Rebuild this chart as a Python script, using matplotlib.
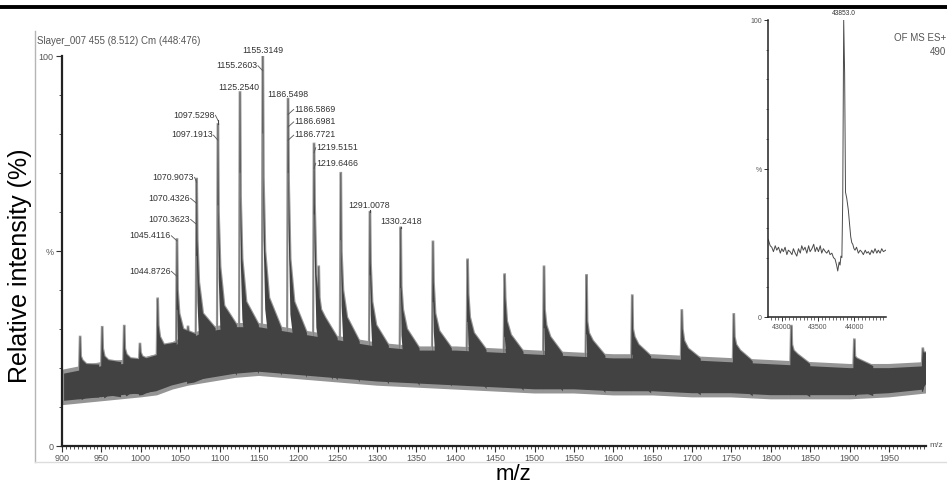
import matplotlib
matplotlib.use("Agg")
import matplotlib.pyplot as plt
import numpy as np
from matplotlib.lines import Line2D
from matplotlib.ticker import MultipleLocator

plt.rcParams['font.family'] = ['Liberation Sans', 'DejaVu Sans']

# noise band of the spectrum (upper / lower edge, % relative intensity)
band_mz = [900, 925, 950, 975, 1000, 1020, 1040, 1060, 1090, 1120, 1150, 1180, 1210, 1240,
           1270, 1300, 1350, 1400, 1450, 1500, 1550, 1600, 1650, 1700, 1750, 1800, 1850,
           1900, 1950, 1997]
band_top = [19, 20, 21, 21.5, 22, 23, 26, 28, 30, 31, 31, 30, 29, 28,
            27, 26, 25, 25, 24.5, 24, 23.5, 23, 23, 22.5, 22, 21.5, 21,
            20.5, 20.5, 21]
band_bot = [11, 11.5, 12, 12.5, 13, 13.5, 15, 16, 17, 18, 18.5, 18, 17.5, 17,
            16.5, 16, 15.5, 15, 14.5, 14, 14, 13.5, 13.5, 13, 13, 12.5, 12.5,
            12.5, 13, 14]

# charge-state peaks: apex, then level just after, a little later, and in the tail
peak_mz = [923, 951, 979, 999, 1021.5, 1046, 1060, 1071, 1098, 1126, 1155, 1187, 1220, 1226,
           1254, 1291, 1330, 1371, 1415, 1462, 1512, 1566, 1624, 1687, 1753, 1826, 1906, 1993]
peak_top = [28, 30.5, 30.8, 26.2, 37.8, 53, 30.6, 68.5, 82.5, 90.7, 100, 89, 77.5, 46,
            70, 60, 56, 52.4, 47.8, 44, 46, 43.8, 38.6, 34.8, 33.8, 30.8, 27.3, 25]
peak_sh = [23, 25, 25, 24, 31, 40, 29, 53, 60, 64, 69, 68, 62, 38,
           50, 47, 41, 42, 39, 38, 35, 32, 30, 30, 28, 26, 23, 24]
peak_mid = [22, 23, 23.5, 23, 28, 34, 28.5, 42, 46, 48, 50, 48, 44, 35,
            40, 37, 35, 34, 33, 32, 31, 29, 28, 27, 26, 24.5, 22.5, 24]
peak_tail = [21, 22, 22.5, 22.5, 26, 30, 28, 34, 36, 37, 38, 37, 35, 33,
             33, 31, 30, 29.5, 29, 28.5, 28, 27, 26, 25, 24.5, 23.5, 22, 24]

# peak annotations: text, peak it belongs to, text position, side of the peak line
ann_text = ['1155.3149', '1155.2603', '1125.2540', '1186.5498', '1186.5869', '1186.6981',
            '1186.7721', '1219.5151', '1219.6466', '1097.5298', '1097.1913', '1070.9073',
            '1070.4326', '1070.3623', '1045.4116', '1044.8726', '1291.0078', '1330.2418']
ann_peak = [1155, 1155, 1126, 1187, 1187, 1187, 1187, 1220, 1220, 1098, 1098, 1071,
            1071, 1071, 1046, 1046, 1291, 1330]
ann_x = [1155, 1148, 1124.5, 1187, 1195, 1195, 1195, 1223, 1223, 1094, 1091.5, 1067.5,
         1062.5, 1062.5, 1038, 1038, 1290.5, 1330.5]
ann_y = [101.6, 97.8, 92.3, 90.5, 86.6, 83.4, 80.0, 76.8, 72.8, 85.1, 80.0, 69.2,
         63.8, 58.4, 54.2, 45.1, 62.0, 57.7]
ann_side = ['c', 'l', 'c', 'c', 'r', 'r', 'r', 'r', 'r', 'l', 'l', 'l',
            'l', 'l', 'l', 'l', 'c', 'c']

# deconvoluted spectrum (inset)
inset_mass = [42815, 42840, 42862, 42885, 42910, 42931, 42955, 42980, 43000, 43022, 43045,
              43070, 43090, 43114, 43140, 43160, 43185, 43207, 43230, 43255, 43275, 43297,
              43320, 43345, 43370, 43390, 43415, 43440, 43460, 43482, 43505, 43530, 43550,
              43573, 43600, 43620, 43645, 43665, 43690, 43712, 43734, 43755, 43771, 43790,
              43803, 43815, 43828, 43840, 43853, 43866, 43878, 43895, 43917, 43935, 43950,
              43965, 43978, 43995, 44009, 44030, 44055, 44080, 44100, 44124, 44150, 44170,
              44193, 44215, 44240, 44261, 44285, 44310, 44330, 44355, 44377, 44400, 44432]
inset_val = [26, 24, 23.5, 22, 24, 22.5, 23.5, 21.5, 23, 22, 23.5,
             21, 22.5, 22, 21, 23, 21.5, 20.5, 23, 21.5, 24, 22.5,
             23.5, 21.5, 24, 22, 23, 24.5, 22, 23.5, 22, 24, 21.5,
             23, 22, 21.5, 22.5, 21, 21.5, 20, 19.5, 17.5, 15.5, 18.5,
             17.5, 20.5, 20, 40, 100, 82, 42, 40, 36, 31, 27,
             25, 24.5, 23, 22.5, 23.5, 21.5, 22.5, 22, 21, 22.5, 21.5,
             22, 21, 22.5, 21.5, 23, 21.5, 22.5, 21.5, 23, 22, 22.5]

W, H = 947, 485
DARK = '#424242'
FRINGE = '#959595'
GREY_TXT = '#555555'


def fx(x):
    return x / W


def fy(y):
    return 1 - y / H


fig = plt.figure(figsize=(W / 100, H / 100), dpi=100)

# screenshot frame
fig.add_artist(Line2D([0, 1], [fy(8), fy(8)], color='black', lw=2.8, transform=fig.transFigure))
fig.add_artist(Line2D([fx(35), fx(35)], [fy(32), fy(463)], color='#b5b5b5', lw=1,
                      transform=fig.transFigure))
fig.add_artist(Line2D([fx(35), 1], [fy(463), fy(463)], color='#dddddd', lw=1,
                      transform=fig.transFigure))

ax = fig.add_axes([fx(62), fy(447), (926 - 62) / W, (447 - 57) / H])

# noise band, with a lighter fuzzy rim
poly_x = np.concatenate([band_mz, band_mz[::-1]])
poly_y = np.concatenate([band_top, band_bot[::-1]])
ax.fill(poly_x, poly_y, facecolor=DARK, edgecolor=FRINGE, lw=3.0, zorder=2)

# peaks with their tails
for mz, top, sh, mid, tail in zip(peak_mz, peak_top, peak_sh, peak_mid, peak_tail):
    up_x = [mz - 1.2, mz - 0.3, mz + 0.3, mz + 1.0, mz + 3.0, mz + 8.0, mz + 24]
    vt0 = np.interp(mz - 1.2, band_mz, band_top)
    vt1 = np.interp(mz + 24, band_mz, band_top)
    up_y = [vt0, top, top, sh, mid, tail, vt1]
    w = np.interp(mz, band_mz, band_top) - np.interp(mz, band_mz, band_bot)
    lo_x = up_x[::-1]
    lo_y = [vt1 - w, tail - w, mid - 1.2 * w, sh - 1.3 * w, top - 1.6 * w, top - 1.6 * w, vt0 - w]
    lo_y = np.maximum(lo_y, np.interp(lo_x, band_mz, band_bot))
    # light rim behind the dark peak body
    ax.plot(up_x, up_y, color=FRINGE, lw=1.6, zorder=2.5, solid_joinstyle='miter')
    ax.fill(up_x + lo_x, up_y + list(lo_y), facecolor=DARK, edgecolor='none', zorder=3)

ax.set_xlim(900, 1997)
ax.set_ylim(0, 100)
for s in ['top', 'right']:
    ax.spines[s].set_visible(False)
for s in ['left', 'bottom']:
    ax.spines[s].set_linewidth(1.6)
    ax.spines[s].set_color('#222222')
    ax.spines[s].set_zorder(6)

ax.set_xticks(np.arange(900, 2000, 50))
ax.xaxis.set_minor_locator(MultipleLocator(5))
ax.set_yticks([0, 50, 100])
ax.set_yticklabels(['0', '%', '100'])
ax.yaxis.set_minor_locator(MultipleLocator(10))
ax.tick_params(axis='both', which='major', length=4, width=0.8, color='#333333',
               labelsize=6.5, labelcolor=GREY_TXT, pad=2)
ax.tick_params(axis='x', which='major', pad=1)
ax.tick_params(axis='both', which='minor', length=2.2, width=0.6, color='#333333')

# peak labels and leader hooks
for txt, pk, tx, ty, side in zip(ann_text, ann_peak, ann_x, ann_y, ann_side):
    ha = {'c': 'center', 'l': 'right', 'r': 'left'}[side]
    ax.text(tx, ty, txt, fontsize=6.3, color='#333333', ha=ha, va='center', clip_on=False,
            zorder=5)
    top = peak_top[peak_mz.index(pk)]
    hook_y = ty - 1.6
    if side == 'l':
        ax.plot([tx + 0.8, pk], [ty - 0.3, hook_y], color='#555555', lw=0.6,
                clip_on=False, zorder=4)
    elif side == 'r':
        ax.plot([pk, tx - 0.8], [hook_y, ty - 0.3], color='#555555', lw=0.6,
                clip_on=False, zorder=4)
    if hook_y > top:
        ax.plot([pk, pk], [top, hook_y], color='#444444', lw=0.8, clip_on=False, zorder=4)

# texts around the plot
fig.text(fx(20), fy(266), 'Relative intensity (%)', rotation=90, fontsize=18,
         ha='center', va='center')
fig.text(fx(513), fy(480), 'm/z', fontsize=16, ha='center', va='baseline')
fig.text(fx(37), fy(41), 'Slayer_007 455 (8.512) Cm (448:476)', fontsize=7,
         color=GREY_TXT, ha='left', va='center')
fig.text(fx(946), fy(38), 'OF MS ES+', fontsize=7, color=GREY_TXT, ha='right', va='center')
fig.text(fx(946), fy(52), '490', fontsize=7, color=GREY_TXT, ha='right', va='center')
fig.text(fx(929), fy(446), 'm/z', fontsize=6, color=GREY_TXT, ha='left', va='center')

# inset: deconvoluted mass
axi = fig.add_axes([fx(768), fy(318), (886 - 768) / W, (318 - 21) / H])
axi.set_facecolor('white')
axi.plot(inset_mass, inset_val, color='#4a4a4a', lw=0.7)
axi.set_xlim(42810, 44436)
axi.set_ylim(0, 100)
for s in ['top', 'right']:
    axi.spines[s].set_visible(False)
for s in ['left', 'bottom']:
    axi.spines[s].set_linewidth(1.1)
    axi.spines[s].set_color('#222222')
axi.set_xticks([43000, 43500, 44000])
axi.xaxis.set_minor_locator(MultipleLocator(50))
axi.set_yticks([0, 50, 100])
axi.set_yticklabels(['0', '%', '100'])
axi.yaxis.set_minor_locator(MultipleLocator(10))
axi.tick_params(axis='both', which='major', length=3, width=0.7, color='#333333',
                labelsize=5, labelcolor=GREY_TXT, pad=1.5)
axi.tick_params(axis='both', which='minor', length=1.8, width=0.5, color='#333333')
axi.text(43853, 102.4, '43853.0', fontsize=4.8, color='#333333', ha='center', va='center',
         clip_on=False)

fig.savefig('out.png', dpi=100)
